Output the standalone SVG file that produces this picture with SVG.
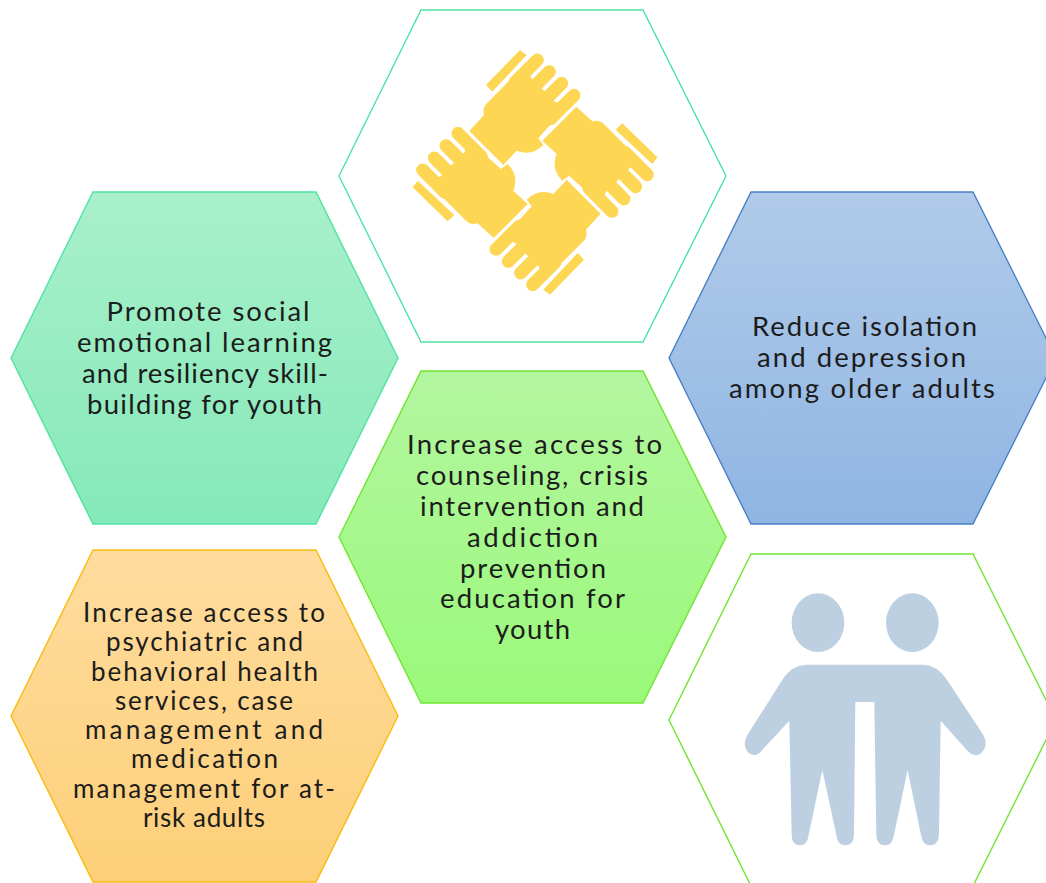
<svg xmlns="http://www.w3.org/2000/svg" width="1046" height="883" viewBox="0 0 1046 883">
<style>
.hex{stroke-width:1.4}
.t{font-family:"Lato","Open Sans","Liberation Sans",sans-serif;font-size:27.5px;fill:#1c1c1c;text-anchor:middle}
.s{font-size:26px}
.hand{fill:#fdd654}
.ppl{fill:#bdd0e2}
</style>
<defs>
<linearGradient id="gGreen" x1="0" y1="0" x2="0" y2="1"><stop offset="0" stop-color="#a9f0ca"/><stop offset="1" stop-color="#85e9b9"/></linearGradient>
<linearGradient id="gLime" x1="0" y1="0" x2="0" y2="1"><stop offset="0" stop-color="#b3f6a0"/><stop offset="1" stop-color="#9af97a"/></linearGradient>
<linearGradient id="gBlue" x1="0" y1="0" x2="0" y2="1"><stop offset="0" stop-color="#b1cbe9"/><stop offset="1" stop-color="#8fb5e3"/></linearGradient>
<linearGradient id="gOrange" x1="0" y1="0" x2="0" y2="1"><stop offset="0" stop-color="#ffdc9e"/><stop offset="1" stop-color="#fdcf78"/></linearGradient>
<g id="oneHand">
<path class="hand" d="M208,303 L252,255 Q245,232 265,215 L370,110 L395,145 L430,180 L463,214 L500,230 L415,325 L430,345 Q395,380 350,362 L310,405 Z"/>
<path d="M412,90 L345,157 M448,125 L380,193 M485,160 L418,227 M522,196 L452,266" stroke="#fdd654" stroke-width="39" stroke-linecap="round" fill="none"/>
<polygon class="hand" points="258,165 360,60 380,75 277,185"/>
</g>
</defs>
<rect width="1046" height="883" fill="#ffffff"/>
<g id="node-hands">
<polygon class="hex" points="339,176 421,10 643,10 726,176 643,342 421,342" fill="#ffffff" stroke="#4fe3a2"/>
<g transform="translate(400,30) scale(0.3333)">
<use href="#oneHand"/>
<use href="#oneHand" transform="rotate(90 405 427)"/>
<use href="#oneHand" transform="rotate(180 405 427)"/>
<use href="#oneHand" transform="rotate(270 405 427)"/>
</g>
</g>
<g id="node-youth-sel">
<polygon class="hex" points="11,358 93,192 316,192 398,358 316,524 93,524" fill="url(#gGreen)" stroke="#4fe3a2"/>
<text class="t" x="208" y="321" textLength="203">Promote social</text>
<text class="t" x="204.500" y="352" textLength="255">emotional learning</text>
<text class="t" x="205" y="383" textLength="246">and resiliency skill-</text>
<text class="t" x="204.500" y="414" textLength="235">building for youth</text>
</g>
<g id="node-counseling">
<polygon class="hex" points="339,537 421,371 643,371 726,537 643,703 421,703" fill="url(#gLime)" stroke="#6fe630"/>
<text class="t" x="534.500" y="454" textLength="255">Increase access to</text>
<text class="t" x="532" y="485" textLength="232">counseling, crisis</text>
<text class="t" x="532" y="516" textLength="224">intervention and</text>
<text class="t" x="532.500" y="547" textLength="131">addiction</text>
<text class="t" x="533" y="578" textLength="146">prevention</text>
<text class="t" x="532.500" y="608" textLength="185">education for</text>
<text class="t" x="532.500" y="639" textLength="75">youth</text>
</g>
<g id="node-older-adults">
<polygon class="hex" points="669,358 751,192 973,192 1056,358 973,524 751,524" fill="url(#gBlue)" stroke="#4a80c6"/>
<text class="t" x="864.500" y="336" textLength="225">Reduce isolation</text>
<text class="t" x="861.500" y="367" textLength="209">and depression</text>
<text class="t" x="862" y="398" textLength="266">among older adults</text>
</g>
<g id="node-psychiatric">
<polygon class="hex" points="11,716 93,550 316,550 398,716 316,882 93,882" fill="url(#gOrange)" stroke="#f8bc10"/>
<text class="t s" x="204" y="622" textLength="242">Increase access to</text>
<text class="t s" x="204.500" y="651" textLength="197">psychiatric and</text>
<text class="t s" x="204.500" y="681" textLength="227">behavioral health</text>
<text class="t s" x="204" y="710" textLength="178">services, case</text>
<text class="t s" x="204" y="739" textLength="238">management and</text>
<text class="t s" x="204.500" y="768" textLength="147">medication</text>
<text class="t s" x="204" y="798" textLength="262">management for at-</text>
<text class="t s" x="204" y="827" textLength="122">risk adults</text>
</g>
<g id="node-people">
<polygon class="hex" points="669,720 751,554 973,554 1056,720 973,886 751,886" fill="#ffffff" stroke="#6fe630"/>
<g class="ppl" transform="translate(720,580) scale(0.3333)">
<ellipse cx="294" cy="128" rx="79" ry="88"/>
<ellipse cx="577" cy="128" rx="79" ry="88"/>
<path d="M260,254 H610 Q650,256 678,295 L790,465 Q806,495 785,518 Q765,535 745,515 L662,422 L657,765 Q655,796 630,796 Q608,796 603,765 L563,570 L522,765 Q517,796 495,796 Q470,796 469,765 L463,366 H406 L402,765 Q400,796 375,796 Q353,796 349,765 L307,570 L266,765 Q262,796 240,796 Q216,796 215,765 L208,422 L125,512 Q105,535 85,518 Q65,495 82,465 L190,295 Q215,256 260,254 Z"/>
</g>
</g>
</svg>
